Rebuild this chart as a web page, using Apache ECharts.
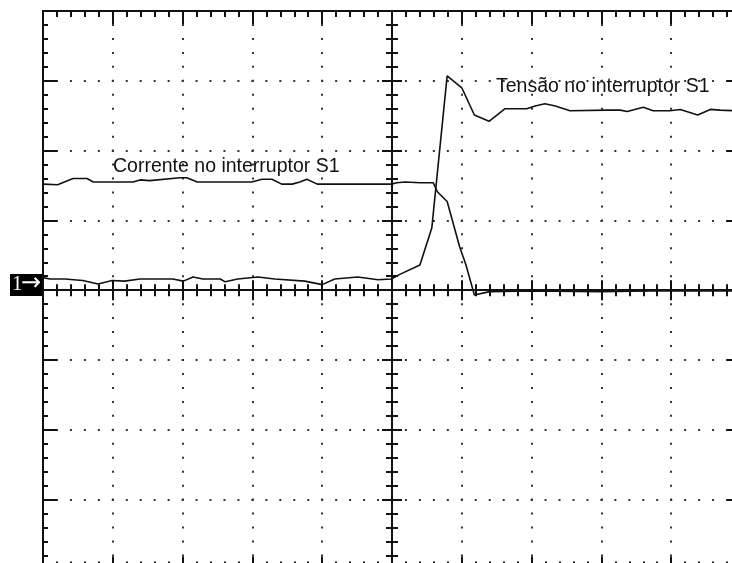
<!DOCTYPE html>
<html>
<head>
<meta charset="utf-8">
<script src="https://cdn.jsdelivr.net/npm/echarts@6/dist/echarts.min.js"></script>
<style>
  html, body { margin: 0; padding: 0; background: #fff; }
  #chart { width: 732px; height: 563px; }
</style>
</head>
<body>
<div id="chart"></div>
<script>
// time in divisions (trigger at 0), amplitude in divisions
const voltT = [-5.00, -4.90, -4.69, -4.43, -4.21, -4.01, -3.83, -3.61, -3.14, -2.99, -2.85, -2.71,
  -2.46, -2.39, -2.21, -1.92, -1.68, -1.25, -1.00, -0.82, -0.49, -0.20, -0.01, 0.12, 0.40, 0.57,
  0.79, 1.00, 1.18, 1.39, 1.62, 1.93, 2.05, 2.19, 2.34, 2.55, 3.08, 3.27, 3.37, 3.60, 3.74, 3.98,
  4.13, 4.38, 4.56, 4.70, 4.95];
const voltV = [0.18, 0.16, 0.16, 0.14, 0.09, 0.14, 0.13, 0.16, 0.16, 0.13, 0.19, 0.16,
  0.16, 0.12, 0.16, 0.19, 0.16, 0.13, 0.08, 0.16, 0.19, 0.15, 0.16, 0.23, 0.36, 0.89,
  3.07, 2.90, 2.51, 2.42, 2.60, 2.60, 2.64, 2.67, 2.64, 2.57, 2.58, 2.58, 2.56, 2.62, 2.57, 2.57,
  2.59, 2.51, 2.59, 2.58, 2.57];

const currT = [-5.00, -4.79, -4.57, -4.37, -4.28, -3.71, -3.61, -3.47, -3.04, -2.94, -2.79, -2.01,
  -1.86, -1.72, -1.58, -1.43, -1.32, -1.22, -1.07, -0.01, 0.07, 0.19, 0.40, 0.59, 0.65, 0.79,
  0.97, 1.06, 1.18, 1.40, 1.98, 2.98, 3.70, 4.95];
const currI = [1.52, 1.51, 1.60, 1.60, 1.55, 1.55, 1.58, 1.57, 1.61, 1.61, 1.55, 1.55,
  1.59, 1.59, 1.52, 1.52, 1.55, 1.59, 1.52, 1.52, 1.54, 1.55, 1.54, 1.54, 1.41, 1.27,
  0.62, 0.36, -0.07, -0.02, -0.01, -0.02, -0.01, -0.01];

const labelVolt = "Tensão no interruptor S1";
const labelCurr = "Corrente no interruptor S1";
const channelNo = "1";
const channelArrow = "→";

const ink = "#111";
const dots = { color: "#333", width: 2, type: [2, 11.96], dashOffset: 1 };

// one graticule axis; the ones on the border/centre only differ in ticks
function axis(dim, opts) {
  const range = dim === "x" ? { min: -5, max: 5 } : { min: -4, max: 4 };
  return Object.assign({
    type: "value",
    min: range.min,
    max: range.max,
    interval: 1,
    axisLine: { show: true, onZero: false, lineStyle: { color: ink, width: 2 } },
    axisTick: { show: true, inside: true, length: 13, lineStyle: { color: ink, width: 2 } },
    minorTick: { show: true, splitNumber: 5, length: 6, lineStyle: { color: ink, width: 2 } },
    axisLabel: { show: false },
    splitLine: { show: false },
    minorSplitLine: { show: false },
  }, opts);
}

function centre(dim, inside) {
  return axis(dim, {
    position: dim === "x" ? "bottom" : "left",
    axisLine: { show: true, onZero: true, onZeroAxisIndex: 0, lineStyle: { color: ink, width: 2 } },
    axisTick: { show: true, inside: inside, length: 10, lineStyle: { color: ink, width: 2 } },
    minorTick: { show: true, splitNumber: 5, length: 6, lineStyle: { color: ink, width: 2 } },
  });
}

const chart = echarts.init(document.getElementById("chart"));

chart.setOption({
  animation: false,
  backgroundColor: "#fff",
  grid: { left: 43, top: 11, width: 698, height: 558.4, containLabel: false, outerBoundsMode: "none" },
  xAxis: [
    axis("x", { position: "top", splitLine: { show: true, lineStyle: dots } }),
    axis("x", { position: "bottom",
      minorTick: { show: true, splitNumber: 5, length: 8, lineStyle: { color: ink, width: 2 } } }),
    centre("x", true),
    centre("x", false),
  ],
  yAxis: [
    axis("y", { position: "left", axisTick: { show: true, inside: true, length: 14, lineStyle: { color: ink, width: 2 } },
      minorTick: { show: true, splitNumber: 5, length: 5, lineStyle: { color: ink, width: 2 } },
      splitLine: { show: true, lineStyle: dots } }),
    axis("y", { position: "right", axisTick: { show: true, inside: true, length: 14, lineStyle: { color: ink, width: 2 } },
      minorTick: { show: true, splitNumber: 5, length: 5, lineStyle: { color: ink, width: 2 } } }),
    centre("y", true),
    centre("y", false),
  ],
  series: [
    {
      name: labelVolt,
      type: "line",
      xAxisIndex: 0,
      yAxisIndex: 0,
      showSymbol: false,
      lineStyle: { color: ink, width: 1.6 },
      data: voltT.map((t, i) => [t, voltV[i]]),
    },
    {
      name: labelCurr,
      type: "line",
      xAxisIndex: 0,
      yAxisIndex: 0,
      showSymbol: false,
      lineStyle: { color: ink, width: 1.6 },
      data: currT.map((t, i) => [t, currI[i]]),
    },
  ],
  graphic: [
    {
      type: "text",
      left: 113,
      top: 157,
      style: { text: labelCurr, fill: ink, font: "19.5px 'Liberation Sans', Arial, sans-serif" },
    },
    {
      type: "text",
      left: 496,
      top: 77,
      style: { text: labelVolt, fill: ink, font: "19.5px 'Liberation Sans', Arial, sans-serif" },
    },
    {
      type: "rect",
      left: 10,
      top: 274,
      shape: { width: 33, height: 22 },
      style: { fill: "#000" },
    },
    {
      type: "text",
      left: 12,
      top: 274,
      style: { text: channelNo, fill: "#fff", font: "21px 'Liberation Serif', serif" },
    },
    {
      type: "text",
      left: 21,
      top: 272,
      style: { text: channelArrow, fill: "#fff", font: "24px 'DejaVu Sans', sans-serif" },
    },
  ],
});
</script>
</body>
</html>
